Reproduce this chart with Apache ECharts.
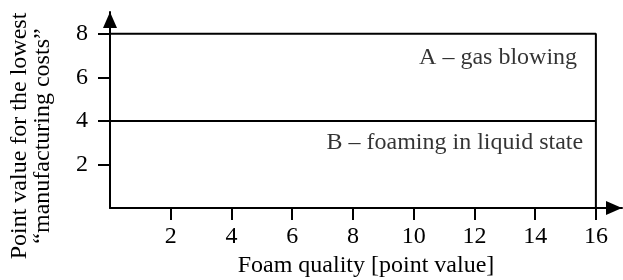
<!DOCTYPE html>
<html>
<head>
<meta charset="utf-8">
<script src="https://cdn.jsdelivr.net/npm/echarts@6/dist/echarts.min.js"></script>
<style>
  html, body { margin: 0; padding: 0; background: #fff; }
  #figure { width: 623px; height: 280px; }
</style>
</head>
<body>
<div id="figure"></div>
<script>
// tick values on both axes
let x_ticks = [2, 4, 6, 8, 10, 12, 14, 16];
let y_ticks = [2, 4, 6, 8];

// region boundaries (quality 0..16, cost points)
let box_outline = [[0, 8], [16, 8], [16, 0]];
let split_line = [[0, 4], [16, 4]];

// region names and where their text ends (right edge, middle)
let region_names = ['A \u2013 gas blowing', 'B \u2013 foaming in liquid state'];
let region_anchor_x = [15.38, 15.58];
let region_anchor_y = [6.9, 2.98];

let font = 'Liberation Serif, Times New Roman, serif';

let myChart = echarts.init(document.getElementById('figure'));

let label_data = [];
for (let i = 0; i < region_names.length; i++) {
    label_data.push({value: [region_anchor_x[i], region_anchor_y[i]], name: region_names[i]});
}

let option = {
    animation: false,
    grid: {left: 110, right: 1, top: 12, bottom: 72, containLabel: false, outerBoundsMode: 'none'},
    xAxis: {
        type: 'value',
        min: 0,
        max: 16.86,
        splitLine: {show: false},
        axisLine: {
            show: true,
            lineStyle: {color: '#000', width: 2},
            symbol: ['none', 'triangle'],
            symbolSize: [14, 16],
            symbolOffset: [0, -8]
        },
        axisTick: {show: true, length: 12, customValues: x_ticks, lineStyle: {color: '#000', width: 2}},
        axisLabel: {customValues: x_ticks, color: '#000', fontFamily: font, fontSize: 24, margin: 17},
        name: 'Foam quality [point value]',
        nameLocation: 'middle',
        nameGap: 41,
        nameTextStyle: {color: '#000', fontFamily: font, fontSize: 24}
    },
    yAxis: {
        type: 'value',
        min: 0,
        max: 9,
        splitLine: {show: false},
        axisLine: {
            show: true,
            lineStyle: {color: '#000', width: 2},
            symbol: ['none', 'triangle'],
            symbolSize: [14, 16],
            symbolOffset: [0, -8]
        },
        axisTick: {show: true, length: 12, customValues: y_ticks, lineStyle: {color: '#000', width: 2}},
        axisLabel: {customValues: y_ticks, color: '#000', fontFamily: font, fontSize: 24, margin: 22}
    },
    graphic: [{
        type: 'text',
        x: 31,
        y: 136,
        rotation: Math.PI / 2,
        style: {
            text: 'Point value for the lowest\n\u201cmanufacturing costs\u201d',
            fill: '#000',
            font: '24px ' + font,
            align: 'center',
            verticalAlign: 'middle',
            lineHeight: 23
        }
    }],
    series: [
        {
            type: 'line',
            data: box_outline,
            symbol: 'none',
            lineStyle: {color: '#000', width: 2}
        },
        {
            type: 'line',
            data: split_line,
            symbol: 'none',
            lineStyle: {color: '#000', width: 2}
        },
        {
            type: 'scatter',
            data: label_data,
            symbolSize: 0,
            label: {
                show: true,
                position: 'left',
                distance: 0,
                formatter: '{b}',
                color: '#000',
                fontFamily: font,
                fontSize: 24
            }
        }
    ]
};
myChart.setOption(option);
</script>
</body>
</html>
